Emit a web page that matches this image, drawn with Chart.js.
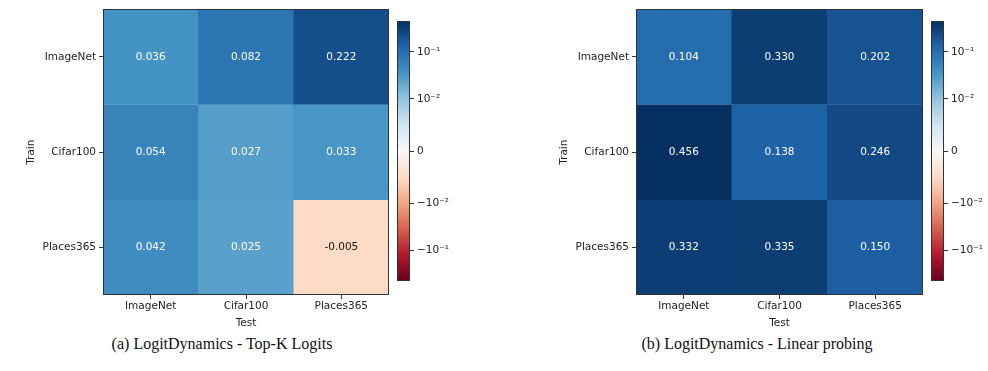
<!DOCTYPE html>
<html>
<head>
<meta charset="utf-8">
<script src="https://cdn.jsdelivr.net/npm/chart.js@4.4.1/dist/chart.umd.min.js"></script>
<style>
  body { margin: 0; background: #fff; }
  #wrap { position: relative; width: 988px; height: 371px; overflow: hidden; background: #fff; }
  canvas { position: absolute; }
  .caption { position: absolute; font-family: "Liberation Serif", serif; font-size: 16px; color: #111; white-space: nowrap; transform: translateX(-50%); }
</style>
</head>
<body>
<div id="wrap">
  <canvas id="heatA" width="395" height="335" style="left:0;top:0"></canvas>
  <canvas id="barA" width="57" height="300" style="left:397px;top:0"></canvas>
  <canvas id="heatB" width="395" height="335" style="left:533px;top:0"></canvas>
  <canvas id="barB" width="57" height="300" style="left:931px;top:0"></canvas>
  <div class="caption" style="left:222px;top:335px">(a) LogitDynamics - Top-K Logits</div>
  <div class="caption" style="left:757px;top:335px">(b) LogitDynamics - Linear probing</div>
</div>
<script>
// data
const testSets = ['ImageNet', 'Cifar100', 'Places365'];
const trainSets = ['ImageNet', 'Cifar100', 'Places365'];
const topKLogits = [
  [0.036, 0.082, 0.222],
  [0.054, 0.027, 0.033],
  [0.042, 0.025, -0.005]
];
const linearProbing = [
  [0.104, 0.330, 0.202],
  [0.456, 0.138, 0.246],
  [0.332, 0.335, 0.150]
];
const cbarTicks = [0.1, 0.01, 0, -0.01, -0.1];
const cbarTickLabels = ['10\u207B\u00B9', '10\u207B\u00B2', '0', '\u221210\u207B\u00B2', '\u221210\u207B\u00B9'];

// symlog norm (linthresh 0.01, linscale 1), RdBu colormap
const linThresh = 0.01;
const vMax = 0.456;
const rdBu = ['#67001f', '#b2182b', '#d6604d', '#f4a582', '#fddbc7', '#f7f7f7',
              '#d1e5f0', '#92c5de', '#4393c3', '#2166ac', '#053061'];

function symlog(v) {
  const a = Math.abs(v);
  const lin = 1 / (1 - 1 / 10);
  const t = a <= linThresh ? a / linThresh * lin : lin + Math.log10(a / linThresh);
  return Math.sign(v) * t;
}
const tMax = symlog(vMax);

function hexToRgb(h) {
  return [parseInt(h.slice(1, 3), 16), parseInt(h.slice(3, 5), 16), parseInt(h.slice(5, 7), 16)];
}

function colorRgb(v) {
  let n = (symlog(v) + tMax) / (2 * tMax);
  n = Math.min(1, Math.max(0, n)) * 10;
  const i = Math.min(9, Math.floor(n));
  const f = n - i;
  const a = hexToRgb(rdBu[i]), b = hexToRgb(rdBu[i + 1]);
  return a.map((c, k) => Math.round(c + (b[k] - c) * f));
}

function colorFor(v) {
  const c = colorRgb(v);
  return 'rgb(' + c.join(',') + ')';
}

function textColorFor(v) {
  const c = colorRgb(v);
  const lum = (0.299 * c[0] + 0.587 * c[1] + 0.114 * c[2]) / 255;
  return lum > 0.75 ? '#111' : '#fff';
}

const tickFont = { family: 'DejaVu Sans', size: 10.5 };
const inkColor = '#222';

// outline around the plot area
const framePlugin = {
  id: 'frame',
  afterDraw(chart) {
    const a = chart.chartArea;
    const ctx = chart.ctx;
    ctx.save();
    ctx.strokeStyle = '#333';
    ctx.lineWidth = 1;
    ctx.strokeRect(Math.round(a.left) + 0.5, Math.round(a.top) + 0.5,
                   Math.round(a.right - a.left) - 1, Math.round(a.bottom - a.top) - 1);
    ctx.restore();
  }
};

// cell values written in the middle of every cell
const cellTextPlugin = {
  id: 'cellText',
  afterDatasetsDraw(chart) {
    const ctx = chart.ctx;
    ctx.save();
    ctx.font = '10.5px "DejaVu Sans"';
    ctx.textAlign = 'center';
    ctx.textBaseline = 'middle';
    chart.data.datasets.forEach((ds, di) => {
      chart.getDatasetMeta(di).data.forEach((bar, j) => {
        const v = ds.values[j];
        const p = bar.getProps(['x', 'y', 'base'], true);
        ctx.fillStyle = textColorFor(v);
        ctx.fillText(v.toFixed(3), p.x, (p.y + p.base) / 2);
      });
    });
    ctx.restore();
  }
};

function makeHeatmap(id, matrix, padRight) {
  const datasets = trainSets.map((name, i) => ({
    label: name,
    values: matrix[i],
    data: testSets.map(() => [2 - i, 3 - i]),
    backgroundColor: matrix[i].map(colorFor),
    borderColor: matrix[i].map(colorFor),
    borderWidth: 0.5,
    borderSkipped: false,
    grouped: false,
    barPercentage: 1,
    categoryPercentage: 1
  }));

  new Chart(document.getElementById(id), {
    type: 'bar',
    data: { labels: testSets, datasets: datasets },
    options: {
      responsive: false,
      animation: false,
      layout: { padding: { left: 0, right: padRight, top: 6, bottom: 0 } },
      plugins: { legend: { display: false }, tooltip: { enabled: false } },
      scales: {
        x: {
          grid: { offset: false, drawOnChartArea: false, tickLength: 4, color: '#333' },
          border: { display: false },
          ticks: { font: tickFont, color: inkColor, padding: 1, maxRotation: 0 },
          title: { display: true, text: 'Test', font: tickFont, color: inkColor, padding: { top: 0, bottom: 5 } },
          afterFit: (scale) => { scale.height = 40; }
        },
        y: {
          min: 0,
          max: 3,
          afterBuildTicks: (scale) => { scale.ticks = [0.5, 1.5, 2.5].map(v => ({ value: v })); },
          grid: { drawOnChartArea: false, tickLength: 4, color: '#333' },
          border: { display: false },
          ticks: {
            font: tickFont,
            color: inkColor,
            padding: 3,
            callback: (v) => trainSets[2 - Math.floor(v)]
          },
          title: { display: true, text: 'Train', font: tickFont, color: inkColor, padding: { top: 25, bottom: 0 } },
          afterFit: (scale) => { scale.width = 103; }
        }
      }
    },
    plugins: [framePlugin, cellTextPlugin]
  });
}

function makeColorbar(id) {
  new Chart(document.getElementById(id), {
    type: 'bar',
    data: {
      labels: [''],
      datasets: [{
        data: [[-tMax, tMax]],
        backgroundColor: (c) => {
          const a = c.chart.chartArea;
          if (!a) return '#fff';
          const ys = c.chart.scales.y;
          const g = c.chart.ctx.createLinearGradient(0, ys.getPixelForValue(-tMax), 0, ys.getPixelForValue(tMax));
          rdBu.forEach((col, i) => g.addColorStop(i / 10, col));
          return g;
        },
        borderWidth: 0,
        barPercentage: 1,
        categoryPercentage: 1
      }]
    },
    options: {
      responsive: false,
      animation: false,
      layout: { padding: { left: 0, right: 0, top: 21, bottom: 19 } },
      plugins: { legend: { display: false }, tooltip: { enabled: false } },
      scales: {
        x: { display: false },
        y: {
          position: 'right',
          min: -tMax,
          max: tMax,
          afterBuildTicks: (scale) => { scale.ticks = cbarTicks.map(v => ({ value: symlog(v) })); },
          grid: { drawOnChartArea: false, tickLength: 4, color: '#333' },
          border: { display: false },
          ticks: {
            font: tickFont,
            color: inkColor,
            padding: 3,
            callback: (v, i) => cbarTickLabels[i]
          },
          afterFit: (scale) => { scale.width = 44; }
        }
      }
    },
    plugins: [framePlugin]
  });
}

makeHeatmap('heatA', topKLogits, 6);
makeColorbar('barA');
makeHeatmap('heatB', linearProbing, 5);
makeColorbar('barB');
</script>
</body>
</html>
